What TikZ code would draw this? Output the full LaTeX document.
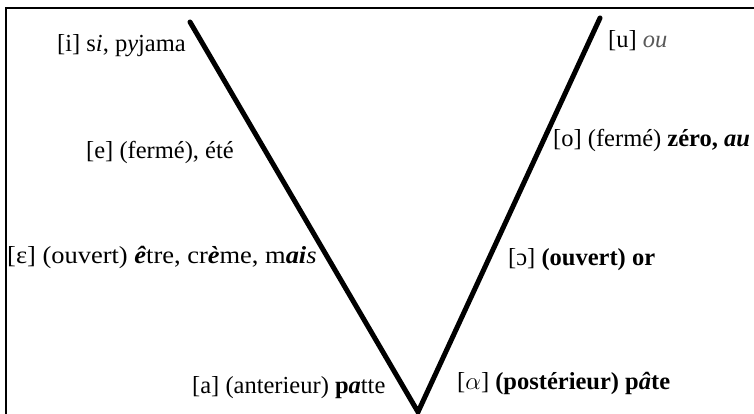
\documentclass[tikz,border=0pt]{standalone}
\usepackage{fontspec}
\setmainfont{Liberation Serif}
\usetikzlibrary{positioning}

\begin{document}
\begin{tikzpicture}[
  x=1pt, y=-1pt,
  vowel/.style={anchor=west, inner sep=0pt, font=\fontsize{24.5}{28}\selectfont},
  arm/.style={line width=5pt, line cap=round},
  frame/.style={line width=2.4pt},
]
\useasboundingbox (0,0) rectangle (754,414);
\clip (0,0) rectangle (754,414);

% ============================================================ FRAME
\draw[frame] (6,8) rectangle (770,430);

% ============================================================ THE V
\coordinate (itop) at (190,22);
\coordinate (utop) at (600,18);
\coordinate (abot) at (418,412);
\draw[arm] (itop) -- (abot) -- (utop);

% ============================================================ FRONT VOWELS
\node[vowel] (i)  at (57,46)   {[i] s\textit{i}, p\textit{y}jama};
\node[vowel] (e)  at (86,152)  {[e] (fermé), été};
\node[vowel] (ee) at (7,257)   {\scalebox{1.08}[1]{[ɛ] (ouvert) \textbf{\textit{ê}}tre, cr\textbf{\textit{è}}me, m\textbf{\textit{ai}}\textit{s}}};
\node[vowel] (a)  at (192,388) {[a] (anterieur) \textbf{p\textit{a}}tte};

% ============================================================ BACK VOWELS
\node[vowel] (u)  at (608,41)  {[u] \textcolor{black!65}{\textit{ou}}};
\node[vowel] (o)  at (553,140) {[o] (fermé) \textbf{zéro, \textit{au}}};
\node[vowel] (oo) at (508,260) {[ɔ] \textbf{(ouvert) or}};
\node[vowel] (aa) at (457,383) {[$\alpha$] \textbf{(postérieur) p\textit{â}te}};

\end{tikzpicture}
\end{document}
